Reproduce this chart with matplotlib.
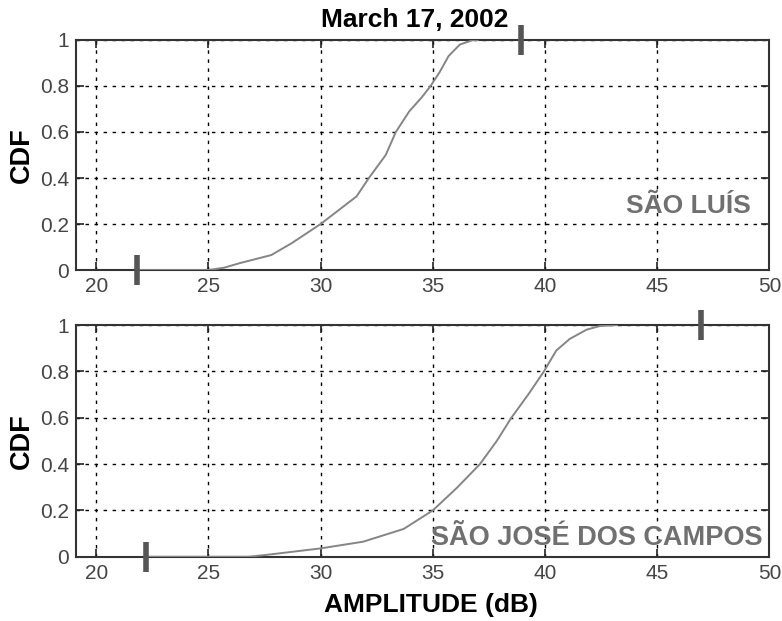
import matplotlib
matplotlib.use("Agg")
import matplotlib.pyplot as plt

plt.rcParams['font.family'] = ['Liberation Sans', 'DejaVu Sans']

title = "March 17, 2002"
xticks = [20, 25, 30, 35, 40, 45, 50]
yticks = [0, 0.2, 0.4, 0.6, 0.8, 1]
ytick_labels = ["0", "0.2", "0.4", "0.6", "0.8", "1"]

# São Luís
amp_sl = [21.8, 25.0, 25.7, 26.4, 27.8, 28.7, 30.0, 30.8, 31.6, 32.15, 32.9, 33.35, 33.95,
          34.5, 34.9, 35.3, 35.7, 36.2, 36.8, 37.0]
cdf_sl = [0.0, 0.0, 0.01, 0.03, 0.065, 0.116, 0.20, 0.26, 0.32, 0.40, 0.50, 0.60, 0.69,
          0.75, 0.80, 0.86, 0.93, 0.98, 1.0, 1.0]
minmax_sl = [21.8, 38.95]

# São José dos Campos
amp_sjc = [22.2, 26.8, 27.5, 28.2, 30.0, 31.9, 33.7, 35.0, 36.1, 37.1, 37.85, 38.5, 39.25,
           39.95, 40.5, 41.1, 41.85, 42.45, 43.2]
cdf_sjc = [0.0, 0.0, 0.007, 0.015, 0.036, 0.065, 0.12, 0.20, 0.30, 0.40, 0.50, 0.60, 0.70,
           0.80, 0.89, 0.94, 0.98, 0.996, 1.0]
minmax_sjc = [22.2, 46.95]

labels = ["SÃO LUÍS", "SÃO JOSÉ DOS CAMPOS"]

fig = plt.figure(figsize=(7.82, 6.21), dpi=100)
ax1 = fig.add_axes([0.0972, 0.5652, 0.8868, 0.3704])
ax2 = fig.add_axes([0.0972, 0.1035, 0.8868, 0.3731])

def style(ax):
    ax.set_xlim(19.1, 50)
    ax.set_ylim(0, 1)
    ax.set_xticks(xticks)
    ax.set_yticks(yticks)
    ax.set_yticklabels(ytick_labels)
    ax.tick_params(direction='in', labelsize=15, length=6, width=1.2, color='#222222',
                   labelcolor='#454545', top=True, right=True, pad=5)
    ax.grid(True, color='black', linestyle=(0, (2.5, 4)), linewidth=1)
    for s in ax.spines.values():
        s.set_linewidth(1.5)
        s.set_color('#333333')
    ax.set_ylabel("CDF", fontsize=19.5, fontweight='bold', labelpad=4)

for ax, amp, cdf, mm in [(ax1, amp_sl, cdf_sl, minmax_sl),
                         (ax2, amp_sjc, cdf_sjc, minmax_sjc)]:
    style(ax)
    ax.plot(amp, cdf, color='#858585', linewidth=1.4, zorder=3)
    ax.plot([mm[0]], [0], marker='|', markersize=22, markeredgewidth=4, color='#555555',
            clip_on=False, zorder=4)
    ax.plot([mm[1]], [1], marker='|', markersize=22, markeredgewidth=4, color='#555555',
            clip_on=False, zorder=4)

ax1.text(46.38, 0.246, labels[0], color='#707070', fontsize=19, fontweight='bold',
         ha='center', va='baseline')
ax2.text(42.31, 0.052, labels[1], color='#707070', fontsize=19.5, fontweight='bold',
         ha='center', va='baseline')

ax1.set_title(title, fontsize=19, fontweight='bold', pad=9, x=0.488)
ax2.set_xlabel("AMPLITUDE (dB)", fontsize=19, fontweight='bold')
ax2.xaxis.set_label_coords(0.512, -0.155)

fig.savefig("out.png", dpi=100)
